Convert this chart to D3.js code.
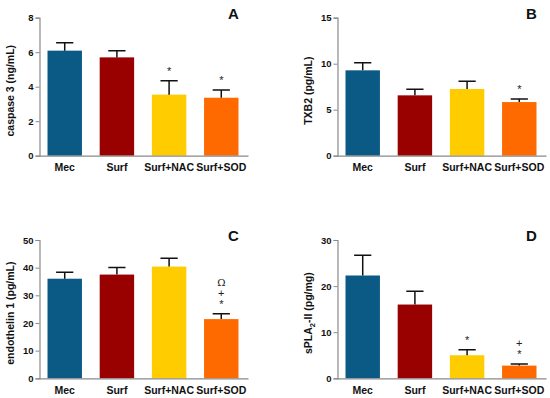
<!DOCTYPE html>
<html>
<head>
<meta charset="utf-8">
<script src="https://cdn.jsdelivr.net/npm/d3@7"></script>
<style>
  body { margin: 0; background: #fff; }
  svg { font-family: "Liberation Sans", Arial, sans-serif; }
</style>
</head>
<body>
<svg class="plot" width="550" height="398"></svg>
<script>
const groups = ["Mec", "Surf", "Surf+NAC", "Surf+SOD"]
const colors = ["#0b5a86", "#990000", "#ffcc00", "#ff6a00"]

const caspaseMean = [6.09, 5.70, 3.54, 3.36]
const caspaseErr = [6.55, 6.09, 4.35, 3.81]
const caspaseMarks = [[], [], ["*"], ["*"]]
const caspaseTicks = [0, 2, 4, 6, 8]

const txbMean = [9.28, 6.56, 7.25, 5.83]
const txbErr = [10.1, 7.21, 8.08, 6.16]
const txbMarks = [[], [], [], ["*"]]
const txbTicks = [0, 5, 10, 15]

const endoMean = [36.0, 37.5, 40.4, 21.4]
const endoErr = [38.3, 40.1, 43.4, 23.3]
const endoMarks = [[], [], [], ["*", "+", "Ω"]]
const endoTicks = [0, 10, 20, 30, 40, 50]

const splaMean = [22.3, 16.0, 5.0, 2.75]
const splaErr = [26.7, 18.9, 6.2, 3.1]
const splaMarks = [[], [], ["*"], ["*", "+"]]
const splaTicks = [0, 10, 20, 30]

const panels = [
  { letter: "A", label: "caspase 3 (ng/mL)", mean: caspaseMean, err: caspaseErr, marks: caspaseMarks, ticks: caspaseTicks, x0: 39.5, top: 17.7, bottom: 155.7 },
  { letter: "B", label: "TXB2 (pg/mL)", mean: txbMean, err: txbErr, marks: txbMarks, ticks: txbTicks, x0: 337.5, top: 17.7, bottom: 155.7 },
  { letter: "C", label: "endothelin 1 (pg/mL)", mean: endoMean, err: endoErr, marks: endoMarks, ticks: endoTicks, x0: 39.5, top: 240, bottom: 378.3 },
  { letter: "D", label: "sPLA2-II (pg/mg)", mean: splaMean, err: splaErr, marks: splaMarks, ticks: splaTicks, x0: 337.5, top: 240, bottom: 378.3 }
]

const svg = d3.select(".plot")
const axisColor = "#8a8a8a"

panels.forEach(p => {
  const g = svg.append("g")

  const x = d3.scaleBand()
    .domain(groups)
    .range([p.x0 + 8, p.x0 + 199])
    .paddingInner(0.34)
    .paddingOuter(0)

  const y = d3.scaleLinear()
    .domain([0, d3.max(p.ticks)])
    .range([p.bottom, p.top])

  const data = groups.map((name, i) => ({ name, mean: p.mean[i], err: p.err[i], marks: p.marks[i], color: colors[i] }))

  // bars
  g.selectAll(".bar")
    .data(data)
    .enter().append("rect")
    .attr("class", "bar")
    .attr("x", d => x(d.name))
    .attr("width", x.bandwidth())
    .attr("y", d => y(d.mean))
    .attr("height", d => y(0) - y(d.mean))
    .attr("fill", d => d.color)

  // error bars (upper only)
  const cap = x.bandwidth() / 4
  g.selectAll(".err")
    .data(data)
    .enter().append("path")
    .attr("class", "err")
    .attr("fill", "none")
    .attr("stroke", "#111")
    .attr("stroke-width", 1.5)
    .attr("d", d => {
      const cx = x(d.name) + x.bandwidth() / 2
      return `M${cx},${y(d.mean)}V${y(d.err)}M${cx - cap},${y(d.err)}H${cx + cap}`
    })

  // significance marks
  data.forEach(d => {
    d.marks.forEach((m, k) => {
      g.append("text")
        .attr("x", x(d.name) + x.bandwidth() / 2)
        .attr("y", y(d.err) - 6 - k * 11)
        .attr("text-anchor", "middle")
        .style("font-size", m === "Ω" ? "10px" : "11px")
        .style("font-family", m === "Ω" ? "'DejaVu Serif', serif" : null)
        .attr("fill", "#222")
        .text(m)
    })
  })

  // y axis
  const yAxis = g.append("g")
    .attr("transform", `translate(${p.x0},0)`)
    .call(d3.axisLeft(y).tickValues(p.ticks).tickSize(4).tickPadding(2))
  yAxis.select(".domain").attr("stroke", axisColor).attr("stroke-width", 1.2)
  yAxis.selectAll(".tick line").attr("stroke", axisColor)
  yAxis.selectAll(".tick text")
    .attr("fill", "#111")
    .style("font-size", "9.5px")
    .style("font-weight", "bold")
    .style("font-family", "'Liberation Sans', Arial, sans-serif")

  // x axis
  const xAxis = g.append("g")
    .attr("transform", `translate(0,${p.bottom})`)
    .call(d3.axisBottom(x).tickSize(0).tickPadding(8))
  xAxis.select(".domain")
    .attr("d", `M${p.x0},0.5H${p.x0 + 209}`)
    .attr("stroke", axisColor).attr("stroke-width", 1.2)
  xAxis.selectAll(".tick text")
    .attr("fill", "#111")
    .style("font-size", "10.5px")
    .style("font-weight", "bold")
    .style("font-family", "'Liberation Sans', Arial, sans-serif")

  // y label
  const lbl = g.append("text")
    .attr("transform", `translate(${p.x0 - 26},${(p.top + p.bottom) / 2 + 4}) rotate(-90)`)
    .attr("text-anchor", "middle")
    .style("font-size", "10.5px")
    .style("font-weight", "bold")
    .attr("fill", "#111")
  if (p.letter === "D") {
    lbl.append("tspan").text("sPLA")
    lbl.append("tspan").attr("dy", 3).style("font-size", "7.5px").text("2")
    lbl.append("tspan").attr("dy", -3).text("-II (pg/mg)")
  } else {
    lbl.text(p.label)
  }

  // panel letter
  g.append("text")
    .attr("x", p.x0 + 194)
    .attr("y", p.top + 1)
    .attr("text-anchor", "middle")
    .style("font-size", "15px")
    .style("font-weight", "bold")
    .attr("fill", "#111")
    .text(p.letter)
})
</script>
</body>
</html>
